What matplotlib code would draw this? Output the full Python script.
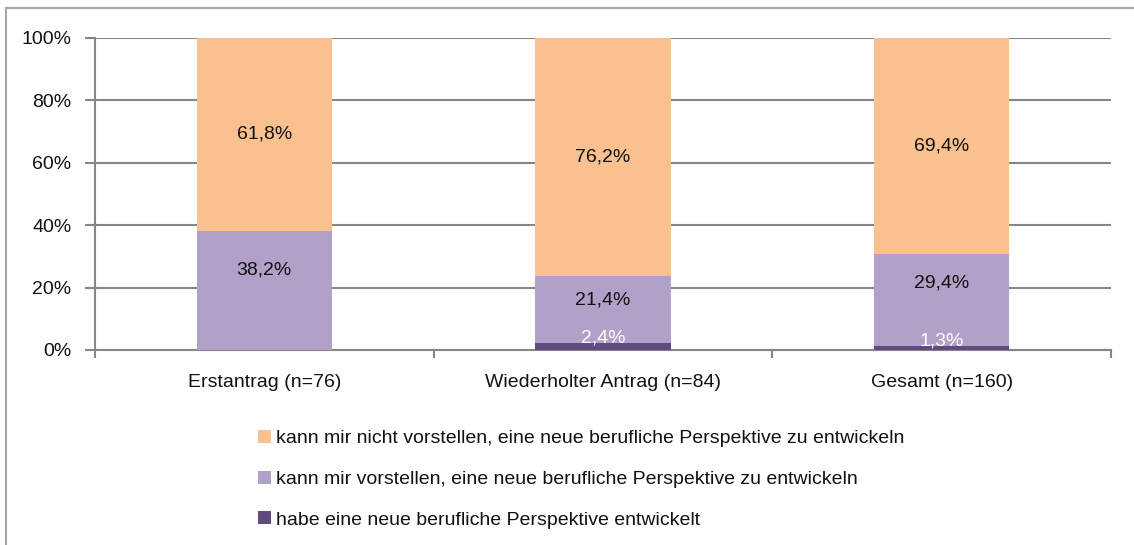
import numpy as np
import matplotlib.pyplot as plt
from matplotlib.patches import Rectangle

plt.rcParams['font.family'] = ['Liberation Sans', 'DejaVu Sans']

# Daten
kategorien = ['Erstantrag (n=76)', 'Wiederholter Antrag (n=84)', 'Gesamt (n=160)']
entwickelt = [0.0, 2.4, 1.3]
vorstellbar = [38.2, 21.4, 29.4]
nicht_vorstellbar = [61.8, 76.2, 69.4]

serien_namen = ['habe eine neue berufliche Perspektive entwickelt',
                'kann mir vorstellen, eine neue berufliche Perspektive zu entwickeln',
                'kann mir nicht vorstellen, eine neue berufliche Perspektive zu entwickeln']
farben = ['#5f4b7f', '#b1a0c7', '#fac090']

# Verschiebung der Beschriftungen (in Prozentpunkten) relativ zur Segmentmitte
label_offset_mitte = [6.5, 2.9, 5.5]

fs = 14

fig = plt.figure(figsize=(11.34, 5.45), dpi=100)
# Rahmen um das Diagramm
fig.patches.append(Rectangle((6/1134, -0.1), 1.2, 1 - 8/545 + 0.1, transform=fig.transFigure,
                             fill=False, edgecolor='#a6a6a6', lw=1.5))

ax = fig.add_axes([95/1134, 1 - 350/545, (1111 - 95)/1134, (350 - 38)/545])

x = np.arange(len(kategorien))
b = 0.4
unten = np.zeros(3)
balken = []
for werte, farbe, name in zip([entwickelt, vorstellbar, nicht_vorstellbar], farben, serien_namen):
    werte = np.array(werte)
    r = ax.bar(x, werte, b, bottom=unten, color=farbe, label=name, zorder=3)
    balken.append(r)
    unten = unten + werte

# Beschriftungen
for i in range(3):
    top_n = vorstellbar[i] + entwickelt[i]
    mitte_n = top_n + nicht_vorstellbar[i] / 2
    ax.text(x[i], mitte_n, f'{nicht_vorstellbar[i]:.1f}%'.replace('.', ','),
            ha='center', va='center', fontsize=fs, color='#111111', zorder=4)
    mitte_v = entwickelt[i] + vorstellbar[i] / 2 + label_offset_mitte[i]
    ax.text(x[i], mitte_v, f'{vorstellbar[i]:.1f}%'.replace('.', ','),
            ha='center', va='center', fontsize=fs, color='#111111', zorder=4)
    if entwickelt[i] > 0:
        ax.text(x[i], entwickelt[i] + 1.6, f'{entwickelt[i]:.1f}%'.replace('.', ','),
                ha='center', va='center', fontsize=fs, color='white', zorder=4)

ax.set_xlim(-0.5, 2.5)
ax.set_ylim(0, 100)
ax.set_yticks(np.arange(0, 101, 20))
ax.set_yticklabels([f'{v}%' for v in range(0, 101, 20)], fontsize=fs, color='#111111')
ax.set_xticks(x)
ax.set_xticklabels(kategorien, fontsize=fs, color='#111111')
ax.tick_params(axis='x', length=0, pad=17)
ax.set_xticks([-0.5, 0.5, 1.5, 2.5], minor=True)
ax.tick_params(axis='x', which='minor', length=6, color='#868686', width=1.5)
ax.tick_params(axis='y', length=7, color='#868686', width=1.5, pad=10)

ax.yaxis.grid(True, color='#868686', lw=1.5, zorder=0)
for s in ['top', 'right']:
    ax.spines[s].set_visible(False)
for s in ['left', 'bottom']:
    ax.spines[s].set_color('#868686')
    ax.spines[s].set_linewidth(1.5)

handles = [balken[2], balken[1], balken[0]]
labels = [serien_namen[2], serien_namen[1], serien_namen[0]]
leg = fig.legend(handles, labels, loc='upper left', bbox_to_anchor=(258/1134, 1 - 430/545),
                 frameon=False, fontsize=fs, handlelength=0.65, handleheight=0.65,
                 handletextpad=0.25, labelspacing=1.2, borderaxespad=0, borderpad=0)
for t in leg.get_texts():
    t.set_color('#111111')

fig.savefig('out.png', dpi=100)
